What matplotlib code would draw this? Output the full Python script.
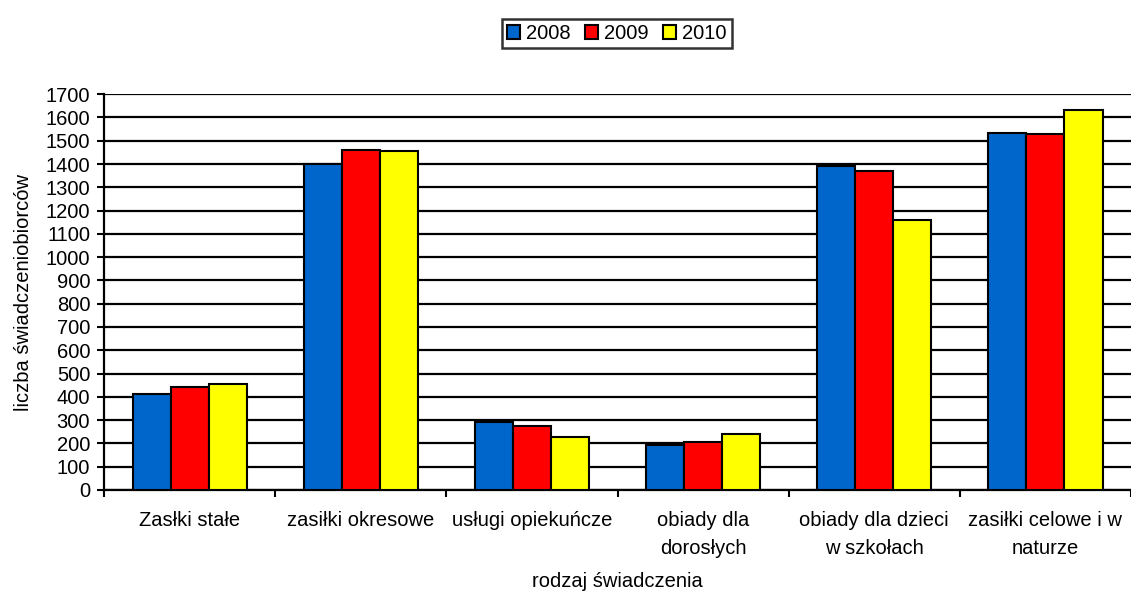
import matplotlib.pyplot as plt
import numpy as np

plt.rcParams['font.family'] = ['Liberation Sans', 'DejaVu Sans']

categories = ["Zasłki stałe", "zasiłki okresowe", "usługi opiekuńcze",
              "obiady dla\ndorosłych", "obiady dla dzieci\nw szkołach",
              "zasiłki celowe i w\nnaturze"]
years = ["2008", "2009", "2010"]
v2008 = [413, 1402, 292, 195, 1391, 1534]
v2009 = [444, 1461, 275, 206, 1368, 1528]
v2010 = [456, 1457, 229, 241, 1161, 1634]
colors = ["#0066CC", "#FF0000", "#FFFF00"]
yticks = list(range(0, 1701, 100))

fig = plt.figure(figsize=(11.31, 5.96), dpi=100)
ax = fig.add_axes([0.092, 0.178, 0.908, 0.664])

x = np.arange(len(categories))
w = 0.667 / 3
for i, (vals, c, lab) in enumerate(zip([v2008, v2009, v2010], colors, years)):
    ax.bar(x + (i - 1) * w, vals, width=w, color=c, edgecolor="black",
           linewidth=1.5, label=lab, zorder=3)

ax.set_xlim(-0.5, len(categories) - 0.5)
ax.set_ylim(0, 1700)
ax.set_yticks(yticks)
ax.yaxis.grid(True, color="black", linewidth=1.6, zorder=0)
ax.set_axisbelow(True)

ax.set_xticks(x)
ax.set_xticklabels(categories, fontsize=14.5, linespacing=1.65)
ax.set_xticks(np.arange(len(categories) + 1) - 0.5, minor=True)
ax.tick_params(axis="x", which="major", length=0, pad=15)
ax.tick_params(axis="x", which="minor", length=5, width=1.5, direction="out")
ax.tick_params(axis="y", length=5, width=1.5, labelsize=14.5, pad=5)

for s in ["top", "right"]:
    ax.spines[s].set_visible(False)
ax.spines["left"].set_linewidth(1.6)
ax.spines["bottom"].set_linewidth(1.6)

ax.set_ylabel("liczba świadczeniobiorców", fontsize=14.5, labelpad=9)
ax.set_xlabel("rodzaj świadczenia", fontsize=14.5, labelpad=10)

leg = fig.legend(loc="upper center", bbox_to_anchor=(0.5455, 0.968), ncol=3,
                 fontsize=14.5, frameon=True, fancybox=False, edgecolor="black",
                 handlelength=0.65, handleheight=0.65, handletextpad=0.3,
                 columnspacing=0.7, borderpad=0.25, borderaxespad=0)
leg.get_frame().set_linewidth(1.8)

fig.savefig("out.png", dpi=100)
